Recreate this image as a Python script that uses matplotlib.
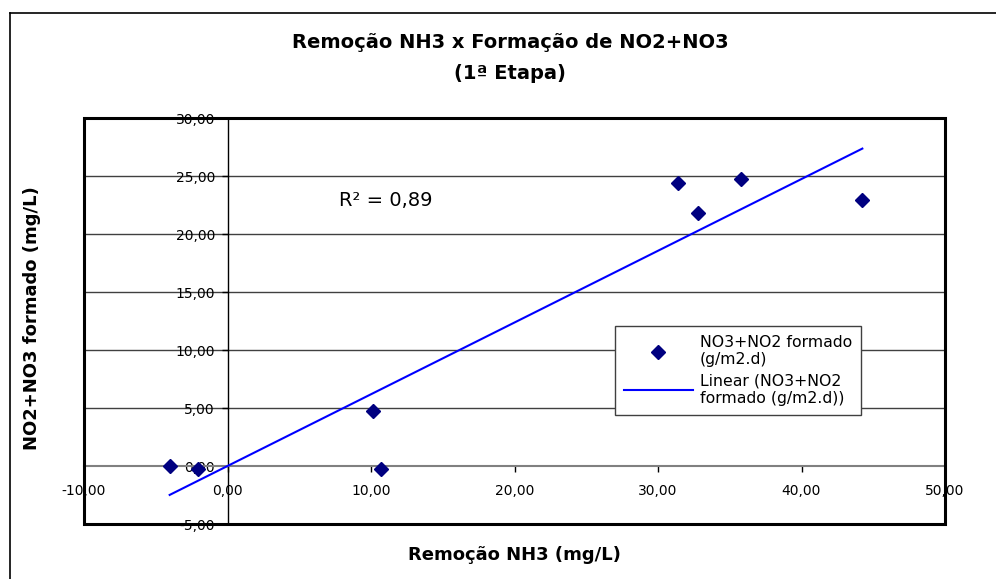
import numpy as np
import matplotlib
matplotlib.use("Agg")
import matplotlib.pyplot as plt
from matplotlib.lines import Line2D

plt.rcParams['font.family'] = ['DejaVu Sans']

# Data
remocao_nh3 = [-4.03, -2.06, 10.14, 10.70, 31.40, 32.80, 35.80, 44.24]
no2_no3_formado = [0.03, -0.28, 4.74, -0.28, 24.42, 21.78, 24.74, 22.90]

x_ticks = [-10, 0, 10, 20, 30, 40, 50]
y_ticks = [-5, 0, 5, 10, 15, 20, 25, 30]

title_line1 = "Remoção NH3 x Formação de NO2+NO3"
title_line2 = "(1ª Etapa)"
x_label = "Remoção NH3 (mg/L)"
y_label = "NO2+NO3 formado (mg/L)"
r2_text = "R² = 0,89"
series_label = "NO3+NO2 formado\n(g/m2.d)"
trend_label = "Linear (NO3+NO2\nformado (g/m2.d))"

x = np.array(remocao_nh3)
y = np.array(no2_no3_formado)
# linear trend through origin
slope = np.sum(x * y) / np.sum(x * x)
xt = np.array([x.min(), x.max()])
yt = slope * xt

fig = plt.figure(figsize=(9.96, 5.79), dpi=100)
ax = fig.add_axes([84/996, 55/579, 861/996, 406/579])

ax.set_xlim(-10, 50)
ax.set_ylim(-5, 30)

# gridlines
for v in y_ticks:
    if v in (-5, 0, 30):
        continue
    ax.axhline(v, color='#404040', lw=1.0, zorder=1)

# axes crossing at zero
for s in ['top', 'right']:
    ax.spines[s].set_visible(False)
ax.spines['left'].set_position(('data', 0))
ax.spines['bottom'].set_position(('data', 0))
ax.spines['left'].set_color('black')
ax.spines['left'].set_linewidth(1.0)
ax.spines['bottom'].set_color('#808080')
ax.spines['bottom'].set_linewidth(1.5)

# plot frame
frame = plt.Rectangle((0, 0), 1, 1, transform=ax.transAxes, fill=False,
                      edgecolor='black', lw=2.2, zorder=5, clip_on=False)
ax.add_patch(frame)

ax.set_xticks(x_ticks)
ax.set_yticks(y_ticks)
fmt = lambda v: f"{v:.2f}".replace('.', ',')
ax.set_xticklabels([fmt(v) for v in x_ticks])
ax.set_yticklabels([fmt(v) for v in y_ticks])
ax.tick_params(axis='both', direction='out', length=4, width=1,
               labelsize=10, colors='black')
ax.tick_params(axis='x', pad=9)
ax.tick_params(axis='y', pad=5)

ax.plot(x, y, linestyle='none', marker='D', markersize=6.8,
        color='#000080', zorder=4)
ax.plot(xt, yt, color='#0000FF', lw=1.5, zorder=3)

ax.text(7.8, 22.9, r2_text, fontsize=14, va='center', ha='left')

handles = [Line2D([], [], linestyle='none', marker='D', markersize=6.8, color='#000080'),
           Line2D([], [], color='#0000FF', lw=1.5)]
leg = ax.legend(handles, [series_label, trend_label], loc='upper left',
                bbox_to_anchor=(0.617, 0.487), fontsize=11.3, frameon=True,
                fancybox=False, edgecolor='#404040', framealpha=1,
                handlelength=4.4, handletextpad=0.45, borderpad=0.55,
                labelspacing=0.4, borderaxespad=0)
for t in leg.get_texts():
    t.set_linespacing(1.2)
leg.get_frame().set_linewidth(1.0)
leg.set_zorder(6)

fig.text(0.512, 1 - 42/579, title_line1, ha='center', va='center',
         fontsize=14, fontweight='bold')
fig.text(0.512, 1 - 74/579, title_line2, ha='center', va='center',
         fontsize=14, fontweight='bold')
fig.text(514/996, 1 - 555/579, x_label, ha='center', va='center',
         fontsize=13, fontweight='bold')
fig.text(32/996, 1 - 318/579, y_label, ha='center', va='center',
         fontsize=13, fontweight='bold', rotation=90)

# outer chart border (left and top visible)
fig.add_artist(Line2D([10/996, 10/996], [0, 1 - 13/579], color='black', lw=1.2,
                      transform=fig.transFigure))
fig.add_artist(Line2D([10/996, 1], [1 - 13/579, 1 - 13/579], color='black', lw=1.2,
                      transform=fig.transFigure))

fig.savefig('out.png', dpi=100)
